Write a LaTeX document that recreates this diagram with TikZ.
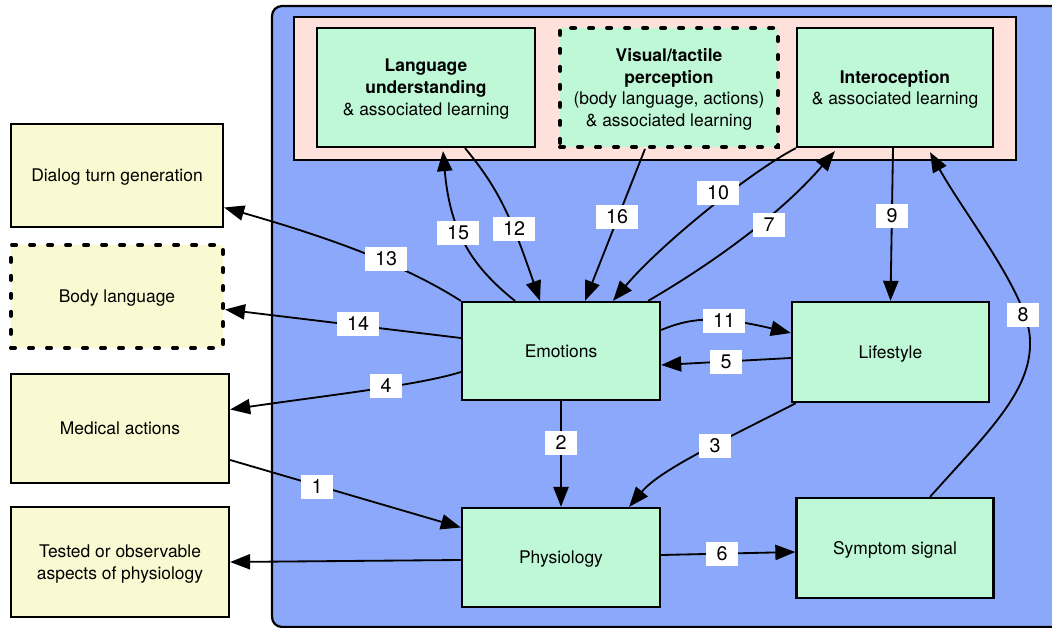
\documentclass[tikz,border=0pt]{standalone}
\usepackage{fontspec}
\setmainfont{TeX Gyre Heros}
\usetikzlibrary{arrows.meta,calc}

\definecolor{bgblue}{RGB}{139,168,250}
\definecolor{bgpink}{RGB}{255,225,220}
\definecolor{boxgreen}{RGB}{190,248,215}
\definecolor{boxyellow}{RGB}{249,249,210}

\begin{document}
\begin{tikzpicture}[x=0.025cm, y=-0.025cm,
    font=\fontsize{12.4}{15.6}\selectfont,
    box/.style={draw, line width=1.6pt, align=center, inner sep=2pt, text depth=-3pt},
    greenbox/.style={box, fill=boxgreen},
    yellowbox/.style={box, fill=boxyellow},
    dashbox/.style={line width=2.8pt, dash pattern=on 2.9pt off 9.9pt, line cap=round},
    lbl/.style={fill=white, font=\fontsize{14}{16}\selectfont, inner xsep=0.26cm, inner ysep=0pt, minimum height=0.59cm},
    arr/.style={line width=1.3pt, -{Triangle[length=5mm,width=3.8mm]}}]
  \useasboundingbox (0,0) rectangle (1052,628);
  \clip (0,0) rectangle (1052,628);

  % 背景
  \draw [fill = bgblue, line width = 1.6pt, rounded corners = 0.25cm] (272,6) rectangle (1080,627);
  \draw [fill = bgpink, line width = 1.6pt] (294,17) rectangle (1016,160);

  % 上面三个框
  \node [greenbox, minimum width = 5.45cm, minimum height = 2.975cm] (lang) at (426,87.5)
    {\textbf{Language}\\\textbf{understanding}\\\& associated learning};
  \node [greenbox, dashbox, minimum width = 5.45cm, minimum height = 2.975cm] (vis) at (669,87.5)
    {\textbf{Visual/tactile}\\\textbf{perception}\\(body language, actions)\\\& associated learning};
  \node [greenbox, minimum width = 4.9cm, minimum height = 2.975cm] (intero) at (895,87.5)
    {\textbf{Interoception}\\\& associated learning};

  % 中间四个框
  \node [greenbox, minimum width = 4.95cm, minimum height = 2.45cm] (emo) at (561,351) {Emotions};
  \node [greenbox, minimum width = 4.925cm, minimum height = 2.5cm] (life) at (890.5,352) {Lifestyle};
  \node [greenbox, minimum width = 4.95cm, minimum height = 2.475cm] (phys) at (561,557.5) {Physiology};
  \node [greenbox, minimum width = 4.925cm, minimum height = 2.5cm] (sym) at (895,548) {Symptom signal};

  % 左边四个框
  \node [yellowbox, minimum width = 5.3cm, minimum height = 2.575cm] (dlg) at (117,175.5) {Dialog turn generation};
  \node [yellowbox, dashbox, minimum width = 5.3cm, minimum height = 2.575cm] (body) at (117,296.5) {Body language};
  \node [yellowbox, minimum width = 5.45cm, minimum height = 2.725cm] (med) at (120,428.5) {Medical actions};
  \node [yellowbox, minimum width = 5.45cm, minimum height = 2.75cm] (tested) at (120,562)
    {Tested or observable\\aspects of physiology};

  % 箭头
  \draw [arr] (emo.north west) .. controls (400,262) and (320,235) .. ($(dlg.east)+(0,32)$);
  \draw [arr] ($(emo.west)+(0,-13)$) -- ($(body.east)+(0,13)$);
  \draw [arr] ($(emo.west)+(0,21)$) .. controls (420,385) and (330,395) .. ($(med.east)+(0,-19)$);
  \draw [arr] ($(med.east)+(0,31.5)$) -- ($(phys.west)+(0,-30)$);
  \draw [arr] ($(phys.west)+(0,2.5)$) -- (tested.east);
  \draw [arr] (emo.south) -- (phys.north);
  \draw [arr] ($(life.south west)+(5,0)$) .. controls (720,442) and (660,470) .. ($(phys.north east)+(-32,0)$);
  \draw [arr] ($(phys.east)+(0,-2.5)$) -- ($(sym.west)+(0,4)$);
  \draw [arr] ($(emo.east)+(0,-21)$) .. controls (690,318) and (715,315) .. ($(life.west)+(0,-19)$);
  \draw [arr] ($(life.west)+(0,6)$) -- ($(emo.east)+(0,14)$);
  \draw [arr] ($(intero.south)+(-2,0)$) -- (life.north);
  \draw [arr] ($(sym.north)+(35,0)$) .. controls (990,430) and (1032,390) .. (1030,340)
    .. controls (1029,295) and (965,215) .. ($(intero.south)+(35,4)$);
  \draw [arr] ($(emo.north east)+(-13,0)$) .. controls (710,265) and (780,215) .. ($(intero.south west)+(39,3)$);
  \draw [arr] (intero.south west) .. controls (750,172) and (660,245) .. ($(emo.north)+(52,0)$);
  \draw [arr] ($(vis.south)+(-24,0)$) -- ($(emo.north)+(24,0)$);
  \draw [arr] ($(lang.south)+(39,0)$) .. controls (500,190) and (512,220) .. ($(emo.north)+(-21,0)$);
  \draw [arr] ($(emo.north)+(-46,0)$) .. controls (470,265) and (450,230) .. ($(lang.south)+(17,3)$);

  % 标号
  \node [lbl] (l1) at (317,487) {1};
  \node [lbl] (l2) at (561,443) {2};
  \node [lbl] (l3) at (715,446) {3};
  \node [lbl] (l4) at (386,386) {4};
  \node [lbl] (l5) at (726,362) {5};
  \node [lbl] (l6) at (722,554) {6};
  \node [lbl] (l7) at (769,225) {7};
  \node [lbl] (l8) at (1023,315) {8};
  \node [lbl] (l9) at (892,216) {9};
  \node [lbl] (l10) at (718,193) {10};
  \node [lbl] (l11) at (724,321) {11};
  \node [lbl] (l12) at (514,229) {12};
  \node [lbl] (l13) at (386,259) {13};
  \node [lbl] (l14) at (358,324) {14};
  \node [lbl] (l15) at (458,233) {15};
  \node [lbl] (l16) at (617,217) {16};
\end{tikzpicture}
\end{document}
